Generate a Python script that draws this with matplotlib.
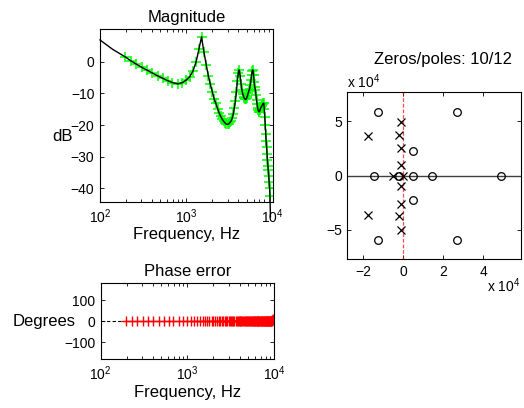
import matplotlib

matplotlib.use("Agg")
import matplotlib.pyplot as plt  # noqa: E402
from matplotlib.ticker import FixedLocator, LogLocator, NullFormatter  # noqa: E402

plt.rcParams["font.family"] = ["Liberation Sans", "DejaVu Sans"]
plt.rcParams["mathtext.fontset"] = "custom"
plt.rcParams["mathtext.rm"] = "Liberation Sans"

# measured response (frequency in Hz, magnitude in dB, phase error in degrees)
meas_freq = [196, 230, 264, 305, 352, 405, 467, 537, 609, 689,
             800, 900, 1000, 1100, 1200, 1300, 1400, 1500, 1600, 1700,
             1800, 1900, 2000, 2100, 2200, 2300, 2400, 2500, 2600, 2700,
             2800, 2900, 3000, 3100, 3200, 3300, 3400, 3500, 3600, 3700,
             3800, 3900, 4000, 4100, 4200, 4300, 4400, 4500, 4600, 4700,
             4800, 4900, 5000, 5100, 5200, 5300, 5400, 5500, 5600, 5700,
             5800, 5900, 6000, 6100, 6200, 6300, 6400, 6500, 6600, 6700,
             6800, 6900, 7000, 7100, 7200, 7300, 7400, 7500, 7600, 7700,
             7800, 7900, 8000, 8100, 8200, 8300, 8400, 8500, 8600, 8700,
             8800, 8900, 9000, 9100, 9200, 9300, 9400, 9500, 9600, 9700,
             9800, 9900]
meas_db = [1.5, 0.2, -0.8, -1.8, -2.7, -3.6, -4.5, -5.3, -6.0, -6.6,
           -7.0, -6.6, -5.8, -4.7, -2.8, 0.0, 4.0, 7.8, 3.0, -1.0,
           -4.5, -7.2, -9.5, -11.8, -13.2, -14.8, -16.2, -17.3, -18.1, -18.8,
           -19.3, -19.7, -19.8, -19.6, -19.2, -18.7, -17.8, -16.5, -14.5, -12.5,
           -9.5, -6.0, -3.5, -2.6, -4.5, -7.0, -9.0, -10.2, -11.0, -11.6,
           -11.9, -11.9, -11.5, -10.8, -10.0, -9.2, -8.5, -7.3, -5.8, -4.2,
           -2.8, -2.6, -4.2, -6.5, -8.0, -8.9, -10.5, -12.0, -13.5, -14.6,
           -15.4, -15.8, -15.8, -15.4, -14.9, -14.5, -14.2, -14.0, -13.6, -13.3,
           -13.1, -13.2, -15.0, -17.5, -20.0, -22.8, -25.0, -27.0, -29.0, -31.0,
           -32.8, -34.3, -36.0, -38.0, -40.0, -42.5, -46.0, -50.0, -54.0, -58.0,
           -62.0, -66.0]
phase_err = [0, 0, 0, 0, 0, 0, 0, 0, 0, 0,
             0, 0, 0, 0, 0, 0, 0, 0, 0, 0,
             0, 0, 0, 0, 0, 0, 0, 0, 0, 0,
             0, 0, 0, 0, 0, 0, 0, 0, 0, 0,
             0, 0, 0, 0, 0, 0, 0, 0, 0, 0,
             0, 0, 0, 0, 0, 0, 0, 0, 0, 0,
             0, 0, 0, 0, 0, 0, 0, 0, 0, 0,
             0, 0, 0, 0, 0, 0, 0, 0, 0, 0,
             0, 0, 0, 0, 0, 0, 0, 0, 0, 0,
             0, 0, 0, 1, 1, 2, 3, 4, 6, 8,
             9, 6]

# fitted model curve
fit_freq = [100, 140] + meas_freq[:96] + [9420]
fit_db = [6.85, 3.9] + meas_db[:96] + [-49.0]

# zeros and poles of the fit, in units of 1e4 rad/s
zero_re = [-1.25, -1.25, 2.67, 2.67, 0.47, 0.47, -1.45, -0.2, 0.47, 1.45, 4.88]
zero_im = [5.89, -5.89, 5.89, -5.89, 2.27, -2.27, 0, 0, 0, 0, 0]
pole_re = [-0.13, -0.13, -0.22, -0.22, -1.78, -1.78, -0.12, -0.12,
           -0.12, -0.12, -0.5, 0.0]
pole_im = [4.97, -4.97, 3.74, -3.74, 3.65, -3.65, 2.58, -2.58,
           0.98, -0.98, 0, 0]

FS = 12
TFS = 10

fig = plt.figure(figsize=(5.24, 4.08), dpi=100)


def _style(ax):
    ax.tick_params(which="both", direction="in", top=True, right=True,
                   labelsize=TFS, length=3, width=0.6, pad=4)
    ax.tick_params(which="minor", length=2)
    for s in ax.spines.values():
        s.set_linewidth(0.8)


# magnitude
ax1 = fig.add_axes([0.1908, 0.5056, 0.3296, 0.4225])
ax1.plot(fit_freq, fit_db, color="black", lw=1.0, clip_on=False, zorder=3)
ax1.plot(meas_freq, meas_db, "+", color="#00ff00", ms=7, mew=1.1, zorder=2)
ax1.set_xscale("log")
ax1.set_xlim(100, 1e4)
ax1.set_ylim(-44.2, 10.2)
ax1.set_yticks([-40, -30, -20, -10, 0])
ax1.xaxis.set_minor_locator(LogLocator(base=10, subs=range(2, 10)))
ax1.xaxis.set_minor_formatter(NullFormatter())
ax1.set_title("Magnitude", fontsize=FS, pad=5)
ax1.set_xlabel("Frequency, Hz", fontsize=FS, labelpad=1)
_style(ax1)
fig.text(0.100, 0.665, "dB", fontsize=FS, ha="left", va="center")

# phase error
ax2 = fig.add_axes([0.1922, 0.1194, 0.3307, 0.1863])
ax2.plot([100, 1e4], [0, 0], "--", color="black", lw=0.8, dashes=(3, 2))
ax2.plot(meas_freq, phase_err, "+", color="red", ms=7.5, mew=1.0)
ax2.set_xscale("log")
ax2.set_xlim(100, 1e4)
ax2.set_ylim(-180, 180)
ax2.set_yticks([-100, 0, 100])
ax2.xaxis.set_minor_locator(LogLocator(base=10, subs=range(2, 10)))
ax2.xaxis.set_minor_formatter(NullFormatter())
ax2.set_title("Phase error", fontsize=FS, pad=5)
ax2.set_xlabel("Frequency, Hz", fontsize=FS, labelpad=1)
_style(ax2)
fig.text(0.025, 0.213, "Degrees", fontsize=FS, ha="left", va="center")

# pole-zero map
ax3 = fig.add_axes([0.6628, 0.3645, 0.3309, 0.4108])
ax3.axhline(0, color="#404040", lw=1.0)
ax3.axvline(0, color="red", lw=0.9, ls="--", dashes=(3, 1.5), alpha=0.7)
ax3.plot(zero_re, zero_im, "o", mfc="none", mec="black", ms=5.5, mew=0.9)
ax3.plot(pole_re, pole_im, "x", color="black", ms=6, mew=0.9)
ax3.set_xlim(-2.8, 5.87)
ax3.set_ylim(-7.7, 7.73)
ax3.xaxis.set_major_locator(FixedLocator([-2, 0, 2, 4]))
ax3.yaxis.set_major_locator(FixedLocator([-5, 0, 5]))
ax3.set_title("Zeros/poles: 10/12", fontsize=FS, pad=20, x=0.55)
_style(ax3)
fig.text(0.662, 0.784, r"x 10$^{4}$", fontsize=TFS, ha="left", va="baseline")
fig.text(0.993, 0.285, r"x 10$^{4}$", fontsize=TFS, ha="right", va="baseline")

fig.savefig("out.png", dpi=100)
plt.close(fig)
